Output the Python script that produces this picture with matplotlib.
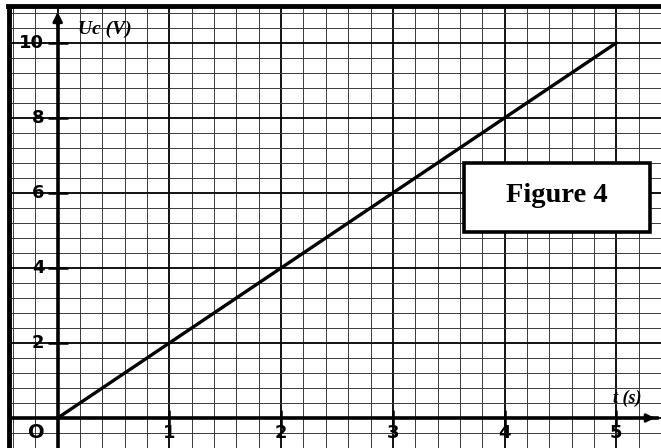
import matplotlib.pyplot as plt
from matplotlib.patches import Rectangle
import numpy as np

# charge de condensateur : Uc = f(t)
t_values = [0, 5]
uc_values = [0, 10]
x_tick_values = [1, 2, 3, 4, 5]
y_tick_values = [2, 4, 6, 8, 10]
title_text = "Figure 4"

fig = plt.figure(figsize=(6.61, 4.48), dpi=100)
ax = fig.add_axes([8.5 / 661, 0.0, 1 - 8.5 / 661, 1 - 6.5 / 448])
ax.set_xlim(-0.44, 5.365)
ax.set_ylim(-0.8, 10.97)

# papier millimetre : traits fins tous les 0.2 s / 0.4 V, traits forts aux unites
ax.set_xticks(np.arange(-0.4, 5.4, 1.0 / 5), minor=True)
ax.set_yticks(np.arange(-0.8, 11.0, 0.4), minor=True)
ax.set_xticks(np.arange(0, 6, 1))
ax.set_yticks(np.arange(0, 12, 2))
ax.grid(which="minor", color="#3a3a3a", lw=0.7)
ax.grid(which="major", color="black", lw=1.3)
ax.tick_params(which="both", length=0, labelbottom=False, labelleft=False)
ax.set_axisbelow(True)

for side in ["right", "bottom"]:
    ax.spines[side].set_visible(False)
for side in ["left", "top"]:
    ax.spines[side].set_linewidth(3.5)

# axes du repere avec fleches
ax.plot([-0.44, 5.365], [0, 0], color="black", lw=2.6, zorder=3)
ax.plot([0, 0], [-0.8, 10.6], color="black", lw=2.6, zorder=3)
ax.annotate("", xy=(0, 10.9), xytext=(0, 10.4),
            arrowprops=dict(arrowstyle="-|>", color="black", lw=2, mutation_scale=14), zorder=4)
ax.annotate("", xy=(5.37, 0), xytext=(5.25, 0),
            arrowprops=dict(arrowstyle="-|>", color="black", lw=2, mutation_scale=12), zorder=4)

# graduations
ax.plot(x_tick_values, [0] * len(x_tick_values), ls="none", marker="|",
        ms=12, mew=1.8, color="black", zorder=4)
ax.plot([0] * len(y_tick_values), y_tick_values, ls="none", marker="_",
        ms=14, mew=1.8, color="black", zorder=4)
for xv in x_tick_values:
    ax.text(xv, -0.4, str(xv), ha="center", va="center", fontsize=13,
            fontweight="bold", color="black")
for yv in y_tick_values:
    ax.text(-0.12, yv, str(yv), ha="right", va="center", fontsize=13,
            fontweight="bold", color="black")
ax.text(-0.19, -0.38, "O", ha="center", va="center", fontsize=14,
        fontweight="bold", color="black")

# noms des grandeurs
ax.text(0.18, 10.35, "Uc (V)", ha="left", va="center", fontsize=14,
        family="Liberation Serif", style="italic", fontweight="bold")
ax.text(4.97, 0.52, "t (s)", ha="left", va="center", fontsize=13,
        family="Liberation Serif", style="italic", fontweight="bold")

# droite Uc = f(t)
ax.plot(t_values, uc_values, color="black", lw=2.4, solid_capstyle="round", zorder=5)

# cartouche
ax.add_patch(Rectangle((3.64, 4.96), 1.66, 1.84, facecolor="white",
                       edgecolor="black", lw=2.6, zorder=6))
ax.text(4.47, 5.92, title_text, ha="center", va="center", fontsize=20.5,
        family="Liberation Serif", fontweight="bold", zorder=7)

fig.savefig("out.png", dpi=100)
